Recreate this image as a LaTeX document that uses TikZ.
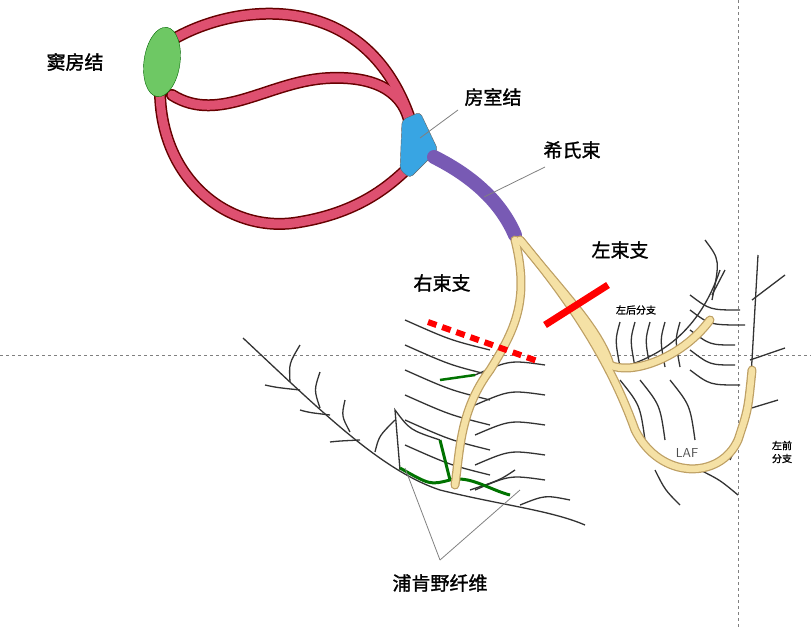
\documentclass[tikz,border=0pt]{standalone}
\usepackage{fontspec}
\usetikzlibrary{calc,shapes.geometric}
\newfontfamily\cjk[FakeBold=1.5]{Noto Sans CJK SC}
\definecolor{pinkin}{RGB}{222,80,112}
\definecolor{beigeout}{RGB}{190,160,100}
\definecolor{beigein}{RGB}{245,225,165}
\definecolor{hisc}{RGB}{120,90,180}
\definecolor{sagreen}{RGB}{110,200,100}
\begin{document}
\begin{tikzpicture}[x=1pt,y=-1pt,
  tract/.style={line width=12pt,draw=black!60!red,line cap=round},
  tractin/.style={line width=9pt,draw=pinkin,line cap=round},
  bund/.style={line width=9pt,draw=beigeout,line cap=round},
  bundin/.style={line width=6.5pt,draw=beigein,line cap=round},
  fib/.style={line width=1.3pt,draw=black!80},
  lab/.style={font=\cjk\fontsize{19}{19}\selectfont},
  slab/.style={font=\cjk\fontsize{10}{13}\selectfont,align=center},
  lead/.style={draw=gray,line width=0.8pt}]
\useasboundingbox (0,0) rectangle (811,627);
\draw[gray,dashed] (0,355) -- (811,355);
\draw[gray,dashed] (738,0) -- (738,627);
% fibers
\draw[fib] (243,338) .. controls (320,410) and (380,470) .. (440,490) .. controls (500,505) and (550,510) .. (585,525);
\foreach \x/\y/\u/\v in {290/382/300/345,320/408/320/372,350/432/345/400,375/452/395/420,300/390/265/385,330/415/300/410,360/440/330/442}
  \draw[fib] (\x,\y) .. controls ($(\x,\y)!0.5!(\u,\v)+(-6,0)$) .. (\u,\v);
\draw[fib] (400,470) -- (395,410) .. controls (410,430) .. (440,440);
\foreach \y in {320,345,370,395,420,445}{
  \draw[fib] (490,\y+30) .. controls (450,\y+20) .. (405,\y);}
\foreach \y in {360,390,420,450,475}{
  \draw[fib] (475,\y+15) .. controls (510,\y) .. (545,\y+5);}
\draw[fib] (520,505) .. controls (545,495) .. (570,500);
\draw[fib] (470,490) .. controls (500,480) .. (515,470);
% left posterior fibers
\foreach \x in {630,645,660,675,690}{
  \draw[fib] (\x-10,367) .. controls (\x-15,340) .. (\x-10,322);}
\draw[fib] (610,370) .. controls (660,360) and (700,330) .. (720,270);
\draw[fib] (705,240) .. controls (720,260) .. (712,300);
\draw[fib] (712,295) -- (725,270);
\foreach \y/\e in {310/740,325/745,345/735,365/735,385/740}{
  \draw[fib] (690,\y-15) .. controls (710,\y) .. (\e,\y);}
\foreach \x in {640,660,690}{
  \draw[fib] (\x-20,380) .. controls (\x,405) .. (\x+5,440);}
% LAF right fibers
\draw[fib] (758,255) -- (752,360) .. controls (748,420) .. (730,460);
\draw[fib] (752,300) -- (785,275);
\draw[fib] (750,360) -- (785,348);
\draw[fib] (745,410) -- (778,400);
\draw[fib] (700,470) .. controls (720,480) .. (738,495);
\draw[fib] (655,470) .. controls (665,490) .. (680,505);
% Purkinje green
\draw[line width=3pt,green!45!black] (400,468) .. controls (430,485) .. (450,480) .. controls (470,475) and (490,490) .. (510,495);
\draw[line width=3pt,green!45!black] (440,440) .. controls (445,460) .. (450,480);
\draw[line width=2.5pt,green!45!black] (440,380) -- (475,375);
% tracts
\foreach \s in {tract,tractin}{
\draw[\s] (172,40) .. controls (240,0) and (370,-10) .. (412,125);
\draw[\s] (172,95) .. controls (220,125) and (270,80) .. (330,78) .. controls (380,76) and (405,95) .. (410,125);
\draw[\s] (160,90) .. controls (160,180) and (230,235) .. (300,222) .. controls (360,212) and (390,185) .. (408,168);}
\node[ellipse,draw=green!40!black,fill=sagreen,minimum width=36pt,minimum height=70pt,rotate=-8,inner sep=0] (sa) at (162,62) {};
\fill[draw=black!60,fill=cyan!80!blue!80,rounded corners=4pt] (402,120) -- (420,112) -- (438,150) -- (410,178) -- (400,170) -- cycle;
\coordinate (av) at (418,140);
% His bundle
\draw[line width=14pt,hisc,line cap=round] (434,157) .. controls (470,175) and (500,200) .. (515,235);
% bundle branches
\foreach \s in {bund,bundin}{
\draw[\s] (515,240) .. controls (530,300) and (515,330) .. (490,370) .. controls (460,410) and (460,450) .. (455,485);
\draw[\s] (520,240) .. controls (560,290) and (600,330) .. (610,365) .. controls (630,375) and (680,360) .. (710,320);
\draw[\s] (520,240) .. controls (570,300) and (610,360) .. (635,430) .. controls (660,480) and (720,480) .. (738,440) .. controls (748,410) .. (752,370);}
% block lines
\draw[red,line width=7pt] (545,325) -- (608,285);
\draw[red,line width=6pt,dash pattern=on 9pt off 6pt] (428,322) -- (540,362);
% labels
\node[lab] at (75,62) {窦房结};
\node[lab] (avl) at (493,97) {房室结};
\node[lab] (hisl) at (572,150) {希氏束};
\node[lab] at (442,283) {右束支};
\node[lab] at (620,250) {左束支};
\node[slab] at (636,310) {左后分支};
\node[slab] at (782,452) {左前\\分支};
\node[font=\sffamily\fontsize{13}{13}\selectfont,text=black!70] at (687,453) {LAF};
\node[lab] (pk) at (440,583) {浦肯野纤维};
\draw[lead] (458,110) -- (420,138);
\draw[lead] (545,167) -- (484,197);
\draw[lead] (440,560) -- (405,468);
\draw[lead] (440,560) -- (520,490);
\end{tikzpicture}
\end{document}
